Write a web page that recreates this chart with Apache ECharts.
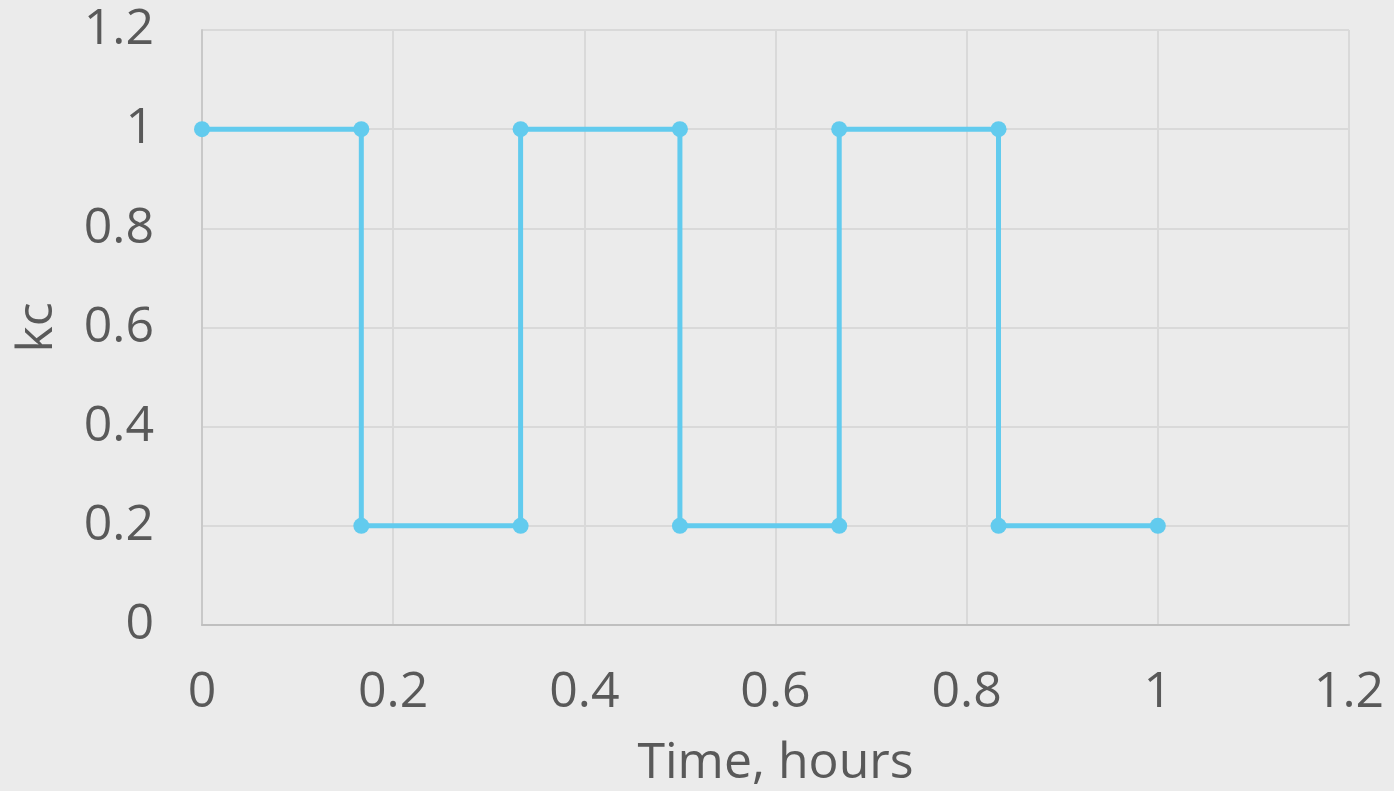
<!DOCTYPE html>
<html><head><meta charset="utf-8">
<script src="https://cdn.jsdelivr.net/npm/echarts@6/dist/echarts.min.js"></script>
<style>html,body{margin:0;padding:0;background:#ebebeb}#c{width:1394px;height:791px}</style>
</head><body><div id="c"></div>
<script>
const timeHours = [0, 1/6, 1/6, 1/3, 1/3, 0.5, 0.5, 2/3, 2/3, 5/6, 5/6, 1];
const kcValues  = [1, 1, 0.2, 0.2, 1, 1, 0.2, 0.2, 1, 1, 0.2, 0.2];
const xAxisName = 'Time, hours';
const yAxisName = 'kc';

const chart = echarts.init(document.getElementById('c'));
const font = 'Open Sans';
chart.setOption({
  backgroundColor: '#ebebeb',
  animation: false,
  grid: {left: 202, right: 45, top: 30, bottom: 166, containLabel: false, outerBoundsMode: 'none'},
  xAxis: {
    type: 'value', min: 0, max: 1.2, interval: 0.2,
    name: xAxisName, nameLocation: 'middle', nameGap: 114,
    nameTextStyle: {color: '#595959', fontSize: 50, fontFamily: font},
    axisLine: {show: true, onZero: false, lineStyle: {color: '#bfbfbf', width: 2}},
    axisTick: {show: false},
    axisLabel: {color: '#595959', fontSize: 50, fontFamily: font, margin: 43,
      formatter: v => String(Math.round(v*10)/10)},
    splitLine: {show: true, lineStyle: {color: '#d9d9d9', width: 2}}
  },
  yAxis: {
    type: 'value', min: 0, max: 1.2, interval: 0.2,
    name: yAxisName, nameLocation: 'middle', nameGap: 139, nameRotate: 90,
    nameTextStyle: {color: '#595959', fontSize: 50, fontFamily: font},
    axisLine: {show: true, lineStyle: {color: '#c8c8c8', width: 2}},
    axisTick: {show: false},
    axisLabel: {color: '#595959', fontSize: 50, fontFamily: font, margin: 48,
      formatter: v => String(Math.round(v*10)/10)},
    splitLine: {show: true, lineStyle: {color: '#d9d9d9', width: 2}}
  },
  series: [{
    type: 'line',
    data: timeHours.map((t, i) => [t, kcValues[i]]),
    symbol: 'circle', symbolSize: 16, showSymbol: true,
    lineStyle: {color: '#62cbee', width: 5},
    itemStyle: {color: '#62cbee'}
  }]
});
</script></body></html>
